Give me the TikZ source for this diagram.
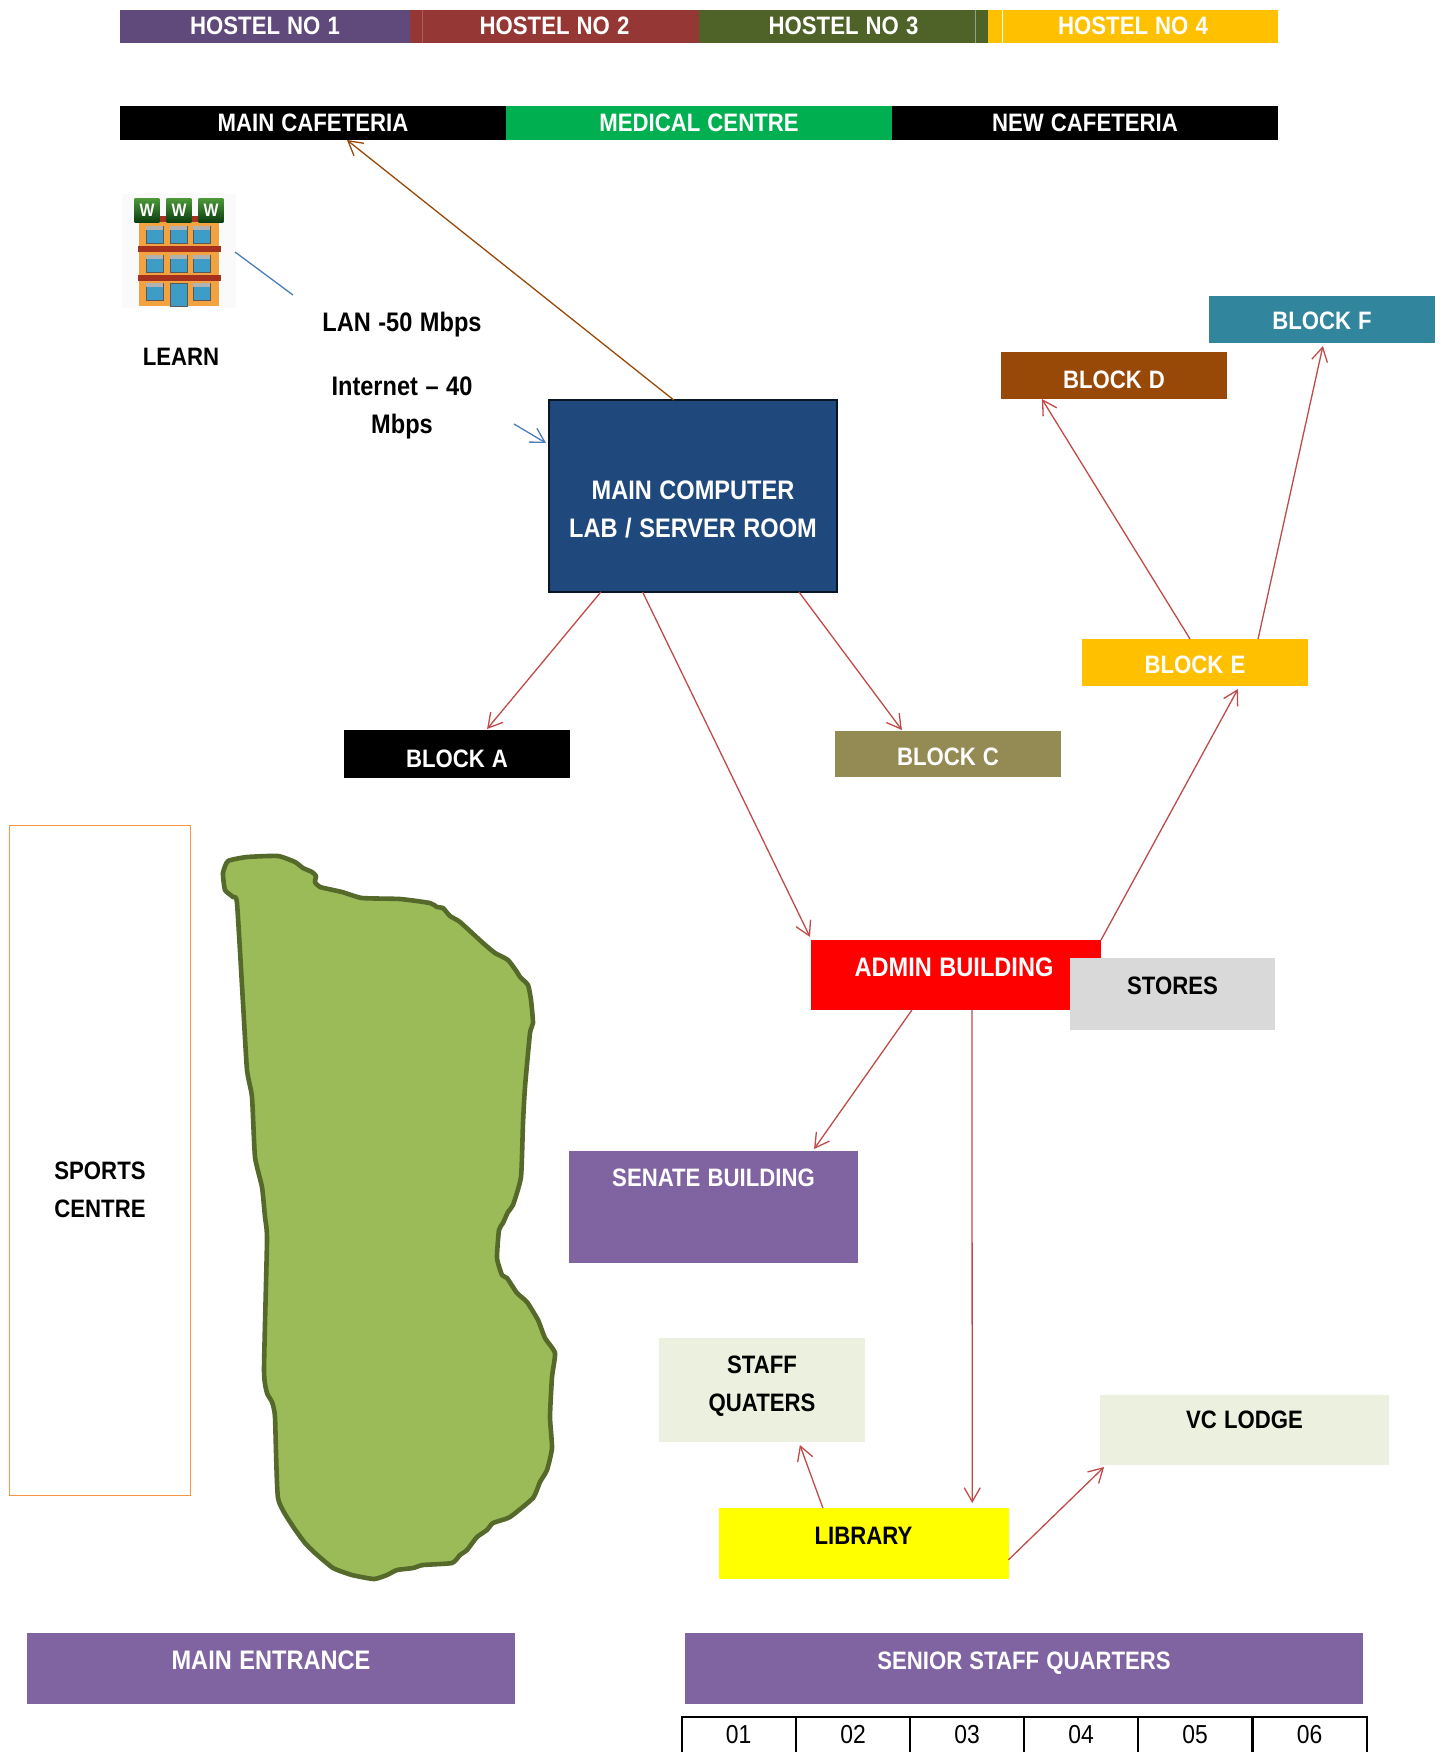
\documentclass[tikz,border=0pt]{standalone}
\usepackage{fontspec}
\setmainfont[FakeStretch=0.88,WordSpace=1.15]{Liberation Sans}
\usetikzlibrary{arrows.meta,calc}
\definecolor{hostA}{HTML}{604A7B}
\definecolor{hostB}{HTML}{953735}
\definecolor{hostC}{HTML}{4F6228}
\definecolor{amber}{HTML}{FFC000}
\definecolor{medgreen}{HTML}{00B050}
\definecolor{navy}{HTML}{1F497D}
\definecolor{brownC}{HTML}{984807}
\definecolor{olive}{HTML}{948A54}
\definecolor{teal}{HTML}{31859C}
\definecolor{violet}{HTML}{8064A2}
\definecolor{pale}{HTML}{EBF1DE}
\definecolor{silver}{HTML}{D9D9D9}
\definecolor{lake}{HTML}{9BBB59}
\definecolor{lakeedge}{HTML}{55692B}
\definecolor{arrowred}{HTML}{BE4B48}
\definecolor{arrowblue}{HTML}{4A7EBB}
\definecolor{sportedge}{HTML}{F79646}
\definecolor{pureyellow}{HTML}{FFFF00}
\definecolor{purered}{HTML}{FF0000}
\definecolor{bodyorange}{HTML}{F2A23E}
\definecolor{glass}{HTML}{3E9CC6}
\definecolor{bandred}{HTML}{A5301E}
\definecolor{tiletop}{HTML}{4E9A3A}
\definecolor{tilebot}{HTML}{0C3D10}
\tikzset{
  x=0.5pt,y=-0.5pt,
  every node/.style={inner sep=0pt,outer sep=0pt,font=\fontsize{12.6}{19}\selectfont\bfseries},
  big/.style={font=\fontsize{13.4}{19}\selectfont\bfseries},
  wh/.style 2 args={minimum width=#1*0.5pt,minimum height=#2*0.5pt},
  lightbox/.style={text=white,align=center},
  darkbox/.style={text=black,align=center},
  txt/.style={text=black,align=center},
  link/.style={draw=arrowred,line width=0.65pt,-{Straight Barb[length=7pt,width=8pt,line width=0.65pt]}},
  linkbrown/.style={link,draw=brownC},
  linkblue/.style={link,draw=arrowblue},
  cellbox/.style={draw=black,line width=1pt,minimum width=57pt,minimum height=20pt,font=\fontsize{13}{15}\selectfont\mdseries,text=black},
  wtile/.style={minimum width=12.4pt,minimum height=12pt,top color=tiletop,bottom color=tilebot,text=white,font=\fontsize{9}{9}\selectfont\bfseries},
  pane/.style={fill=glass,draw=gray!70!black,line width=0.3pt}
}
\newcommand{\up}[2]{\raisebox{\dimexpr#1-4.5pt\relax}[0pt][0pt]{#2}}
\newcommand{\upp}[2]{\raisebox{\dimexpr#1-3.1pt\relax}[0pt][0pt]{\begin{tabular}{@{}c@{}}#2\end{tabular}}}
\begin{document}
\begin{tikzpicture}
\useasboundingbox (0,0) rectangle (1446,1752);
% top bars
\node[fill=hostA,lightbox,wh={290}{33}] (h1) at (265,26.5) {\up{0.5pt}{HOSTEL NO 1}};
\node[fill=hostB,lightbox,wh={289}{33}] (h2) at (554.5,26.5) {\up{0.5pt}{HOSTEL NO 2}};
\node[fill=hostC,lightbox,wh={289}{33}] (h3) at (843.5,26.5) {\up{0.5pt}{HOSTEL NO 3}};
\node[fill=amber,lightbox,wh={290}{33}] (h4) at (1133,26.5) {\up{0.5pt}{HOSTEL NO 4}};
\draw[white,line width=0.4pt] (1002,10) -- (1002,43);
\draw[white,opacity=.4,line width=0.4pt] (975,10) -- (975,43);
\draw[white,opacity=.2,line width=0.4pt] (422,10) -- (422,43);
\node[fill=black,lightbox,wh={386}{34}] (caf) at (313,123) {MAIN CAFETERIA};
\node[fill=medgreen,lightbox,wh={386}{34}] (med) at (699,123) {MEDICAL CENTRE};
\node[fill=black,lightbox,wh={386}{34}] (ncaf) at (1085,123) {NEW CAFETERIA};
% www building icon
\fill[black!2] (122,194) rectangle (236,308);
\fill[bodyorange] (139,222) rectangle (219,306);
\foreach \wx in {146,170,193}{
  \foreach \wy in {226,255,283}{
    \draw[pane] (\wx,\wy) rectangle (\wx+17,\wy+17);
    \fill[gray!60] (\wx,\wy) rectangle (\wx+17,\wy+4);
  }
}
\draw[pane] (170,283) rectangle (187,306);
\fill[bandred] (155,216) rectangle (200,222);
\fill[bandred] (138,246) rectangle (221,252);
\fill[bandred] (138,275) rectangle (221,281);
\node[wtile] (w1) at (147,210) {W};
\node[wtile] (w2) at (179,210) {W};
\node[wtile] (w3) at (211,210) {W};
\node[txt] (learn) at (181,357) {LEARN};
\node[txt,big] (lan) at (402,325) {LAN -50 Mbps};
\node[txt,big] (inet) at (402,408) {Internet – 40\\Mbps};
\coordinate (lanfoot) at (293,295);
\coordinate (iconright) at (235,252);
\coordinate (inetout) at (514,424);
\draw[arrowblue,line width=0.65pt] (iconright) -- (lanfoot);
% main blocks
\node[fill=navy,draw=black!70!navy,line width=0.6pt,lightbox,big,wh={288}{192}] (main) at (693,496) {\upp{-8pt}{MAIN COMPUTER\\LAB / SERVER ROOM}};
\node[fill=black,lightbox,wh={226}{48}] (ba) at (457,754) {\up{-2.4pt}{BLOCK A}};
\node[fill=olive,lightbox,wh={226}{46}] (bc) at (948,754) {\up{-1pt}{BLOCK C}};
\node[fill=amber,lightbox,wh={226}{47}] (be) at (1195,662.5) {\up{-1pt}{BLOCK E}};
\node[fill=brownC,lightbox,wh={226}{47}] (bd) at (1114,375.5) {\up{-2.2pt}{BLOCK D}};
\node[fill=teal,lightbox,wh={226}{47}] (bf) at (1322,319.5) {\up{-0.5pt}{BLOCK F}};
\node[fill=purered,lightbox,big,wh={290}{70}] (admin) at (956,975) {\up{4pt}{ADMIN BUILDING\hspace*{2pt}}};
\node[fill=silver,darkbox,wh={205}{72}] (stores) at (1172.5,994) {\up{4.4pt}{STORES}};
\node[fill=violet,lightbox,wh={289}{112}] (senate) at (713.5,1207) {\up{15pt}{SENATE BUILDING}};
\node[fill=pale,darkbox,wh={206}{104}] (staff) at (762,1390) {\upp{2.7pt}{STAFF\\QUATERS}};
\node[fill=pale,darkbox,wh={289}{70}] (vc) at (1244.5,1430) {\up{5.4pt}{VC LODGE}};
\node[fill=pureyellow,darkbox,wh={290}{71}] (lib) at (863.5,1543.5) {\up{4.2pt}{LIBRARY}};
\node[draw=sportedge,line width=0.45pt,fill=white,darkbox,wh={181}{670}] (sports) at (100,1160.5) {\upp{-15pt}{SPORTS\\CENTRE}};
\node[fill=violet,lightbox,big,wh={488}{71}] (gate) at (271,1668.5) {\up{4pt}{MAIN ENTRANCE}};
\node[fill=violet,lightbox,wh={678}{71}] (senior) at (1024,1668.5) {\up{4pt}{SENIOR STAFF QUARTERS}};
% lake
\filldraw[fill=lake,draw=lakeedge,line width=2.3pt,line join=round]
  plot[smooth cycle,tension=0.3] coordinates {
  (228,861)(247,857)(278,856)(295,862)(303,868)(312,872)(316,876)(315,882)(320,887)(342,892)(362,898)
  (400,899)(430,903)(437,907)(443,908)(450,916)(460,922)(483,943)(495,953)(508,960)(517,972)(520,977)
  (528,985)(531,1000)(533,1023)(530,1033)(525,1087)(523,1123)(521,1177)(513,1205)(508,1212)(503,1223)
  (499,1230)(497,1258)(502,1275)(507,1278)(517,1293)(527,1302)(538,1320)(545,1338)(555,1353)(552,1377)
  (550,1417)(552,1448)(547,1470)(540,1482)(533,1498)(510,1517)(493,1523)(487,1530)(477,1537)(467,1550)
  (460,1555)(452,1563)(423,1565)(413,1568)(397,1570)(387,1575)(374,1579)(352,1575)(333,1568)(315,1553)
  (305,1543)(292,1525)(278,1498)(275,1417)(272,1402)(267,1393)(264,1370)(267,1240)(265,1217)(262,1187)
  (255,1157)(252,1097)(247,1070)(243,1003)(237,903)(233,897)(225,890)(223,873)};
% table
\foreach \i/\cx/\lbl in {1/738.5/01,2/853/02,3/967/03,4/1081/04,5/1195/05,6/1309.5/06}{
  \node[cellbox,anchor=north] (cell\i) at (\cx,1717) {\up{1.5pt}{\lbl}};
}
% connectors
\draw[linkbrown] ($(main.north west)!0.433!(main.north east)$) -- ($(caf.south west)!0.588!(caf.south east)$);
\draw[linkblue] (inetout) -- ($(main.north west)!0.224!(main.south west)+(-3,0)$);
\draw[link] ($(main.south west)!0.18!(main.south east)$) -- ($(ba.north west)!0.633!(ba.north east)+(0,-1)$);
\draw[link] ($(main.south west)!0.325!(main.south east)$) -- ($(admin.north west)+(-1,-3)$);
\draw[link] ($(main.south west)!0.868!(main.south east)$) -- ($(bc.north west)!0.296!(bc.north east)+(0,-1)$);
\draw[link] ($(be.north west)!0.478!(be.north east)$) -- ($(bd.south west)!0.181!(bd.south east)$);
\draw[link] ($(be.north west)!0.779!(be.north east)$) -- ($(bf.south west)!0.504!(bf.south east)+(0,3)$);
\draw[link] (admin.north east) -- ($(be.south west)!0.69!(be.south east)+(0,3)$);
\draw[link] ($(admin.south west)!0.348!(admin.south east)$) -- ($(senate.north west)!0.848!(senate.north east)+(0,-2)$);
\draw[link] ($(admin.south west)!0.555!(admin.south east)$) -- ($(lib.north west)!0.875!(lib.north east)+(0,-5)$);
\draw[link] ($(lib.north west)!0.36!(lib.north east)$) -- ($(staff.south west)!0.684!(staff.south east)+(0,3)$);
\draw[link] ($(lib.north east)!0.73!(lib.south east)$) -- ($(vc.south west)!0.014!(vc.south east)+(0,2)$);
\end{tikzpicture}
\end{document}
